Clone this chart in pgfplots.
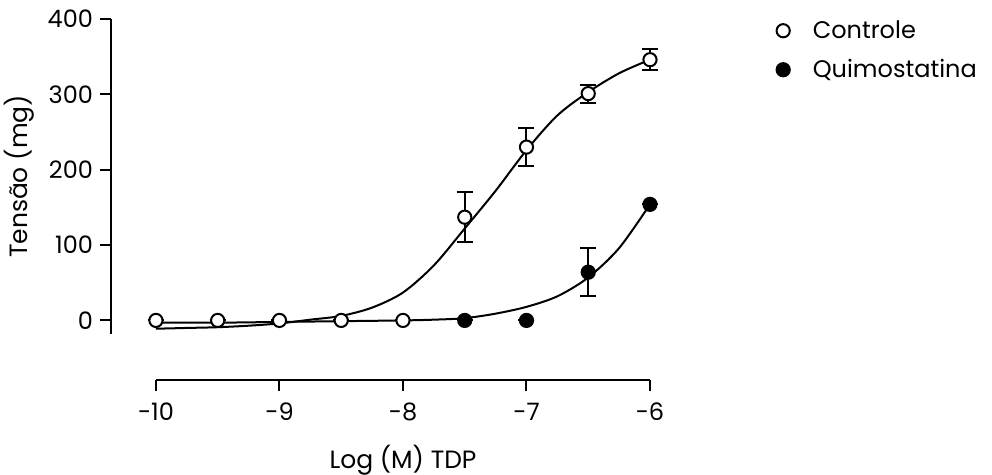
\documentclass[border=0pt]{standalone}
\usepackage{pgfplots}
\pgfplotsset{compat=1.18}
\usepackage{fontspec}
\setmainfont{Poppins}

\pgfplotsset{
  prism/.style={
    scale only axis, clip=false,
    ticklabel style={font=\fontsize{12}{14}\selectfont},
    label style={font=\fontsize{12.5}{15}\selectfont},
    /pgf/number format/assume math mode=true,
  },
  prismlines/.style={
    axis line style={-, line width=1pt},
    every outer x axis line/.append style={-},
    every outer y axis line/.append style={-},
    tick style={line width=1pt, black},
    tick align=outside, major tick length=5.5pt,
    minor tick num=0,
  }
}

\begin{document}
\begin{tikzpicture}
\useasboundingbox (0,0) rectangle (496pt,237.5pt);

% data axis with y axis
\begin{axis}[prism,
  at={(55.5pt,70.5pt)}, anchor=south west,
  width=269.5pt, height=157.5pt,
  xmin=-10.364, xmax=-6, ymin=-18, ymax=400,
  axis x line=none, axis y line=left,
  prismlines, ytick pos=left,
  ytick={0,100,200,300,400},
  ylabel={Tensão (mg)},
  legend style={at={(1.223,1.016)}, anchor=north west, draw=none, fill=none,
    font=\fontsize{12}{14}\selectfont, row sep=7pt,
    nodes={inner sep=1pt}},
  legend image code/.code={\draw[#1] plot coordinates {(0.3cm,0cm)};},
  legend cell align=left,
]

% fitted curves
\addplot[black, line width=1pt, smooth, forget plot] coordinates {
  (-10,-11) (-9.75,-10) (-9.5,-9) (-9.25,-7) (-9,-4) (-8.75,1) (-8.5,6)
  (-8.25,17) (-8,37) (-7.75,73) (-7.5,122) (-7.25,172) (-7,226)
  (-6.75,272) (-6.5,303) (-6.25,328) (-6,346)
};
\addplot[black, line width=1pt, smooth, forget plot] coordinates {
  (-10,-3) (-9.5,-3) (-9,-2) (-8.5,-1) (-8,0) (-7.75,1) (-7.5,3)
  (-7.25,9) (-7,18) (-6.75,32) (-6.5,57) (-6.25,96) (-6,154)
};

% Controle
\addplot[only marks, mark=*, mark size=3.3pt,
  mark options={fill=white, draw=black, line width=1pt},
  error bars/.cd, y dir=both, y explicit,
  error bar style={line width=1pt, black},
  error mark options={rotate=90, mark size=4pt, line width=1pt}]
  table[x=x, y=y, y error=e] {
x y e
-10 0 0
-9.5 0 0
-9 0 0
-8.5 0 0
-8 0 0
-7.5 137 33
-7 230 25
-6.5 301 12
-6 346 14
};
\addlegendentry{\hspace{10.5pt}Controle}

% Quimostatina
\addplot[only marks, mark=*, mark size=3.3pt,
  mark options={fill=black, draw=black, line width=1pt},
  error bars/.cd, y dir=both, y explicit,
  error bar style={line width=1pt, black},
  error mark options={rotate=90, mark size=4pt, line width=1pt}]
  table[x=x, y=y, y error=e] {
x y e
-7.5 0 0
-7 0 0
-6.5 64 32
-6 154 0
};
\addlegendentry{\hspace{10.5pt}Quimostatina}
\end{axis}

% offset x axis
\begin{axis}[prism,
  at={(78pt,47.5pt)}, anchor=south west,
  width=247pt, height=10pt,
  xmin=-10, xmax=-6, ymin=0, ymax=1,
  axis x line=bottom, axis y line=none,
  prismlines, xtick pos=bottom,
  xtick={-10,-9,-8,-7,-6},
  xticklabel style={yshift=-2.5pt},
  xlabel={Log (M) TDP},
  xlabel style={yshift=-5pt},
]
\end{axis}
\end{tikzpicture}
\end{document}
